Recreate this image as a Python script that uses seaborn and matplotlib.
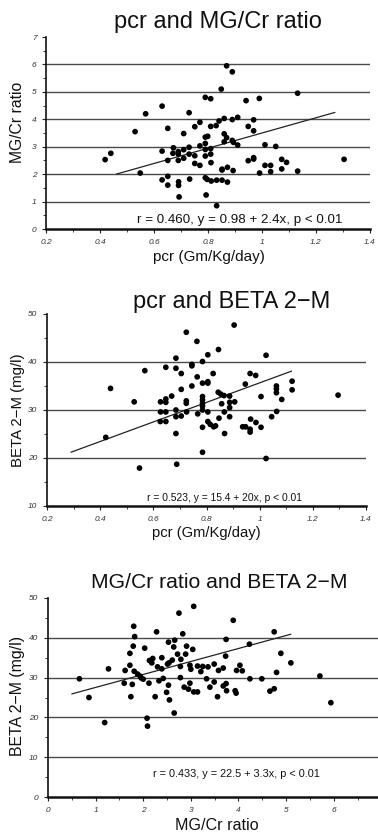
import numpy as np
import pandas as pd
import matplotlib
matplotlib.use("Agg")
import matplotlib.pyplot as plt
from matplotlib.ticker import MultipleLocator, FuncFormatter
import seaborn as sns

# ---------------- data ----------------
pcr1 = [0.869, 0.890, 0.849, 0.790, 0.810, 0.941, 0.990, 0.630, 0.569, 0.730,
        0.530, 0.651, 0.710, 0.751, 0.770, 0.810, 0.830, 0.841, 0.860, 0.890,
        0.910, 0.949, 0.969, 0.969, 0.790, 0.799, 0.860, 0.869, 0.860, 0.890,
        0.894, 0.910, 0.790, 0.770, 0.790, 0.810, 0.810, 0.790, 0.672, 0.690,
        0.710, 0.730, 0.670, 0.690, 0.710, 0.690, 0.730, 0.751, 0.630, 0.651,
        0.751, 0.770, 0.811, 1.011, 1.051, 0.949, 0.969, 0.969, 1.011, 1.032,
        1.032, 0.991, 0.852, 0.852, 0.872, 0.893, 0.549, 0.419, 0.440, 0.630,
        0.651, 0.651, 0.691, 0.691, 0.732, 0.790, 0.797, 0.812, 0.832, 0.852,
        0.872, 0.693, 0.793, 0.832, 1.132, 1.304, 1.132, 1.091, 1.073, 1.073]
mgcr1 = [5.95, 5.73, 5.10, 4.80, 4.75, 4.68, 4.76, 4.48, 4.20, 4.24,
         3.55, 3.67, 3.48, 3.73, 3.89, 3.74, 3.77, 3.94, 4.03, 3.99,
         4.07, 3.74, 3.98, 3.58, 3.35, 3.38, 3.47, 3.33, 3.18, 3.23,
         3.16, 3.06, 3.12, 3.03, 2.90, 2.93, 2.73, 2.66, 2.96, 2.82,
         2.89, 2.98, 2.76, 2.73, 2.58, 2.50, 2.73, 2.67, 2.84, 2.50,
         2.39, 2.32, 2.42, 3.07, 3.01, 2.49, 2.60, 2.55, 2.32, 2.32,
         2.09, 2.04, 2.18, 2.15, 2.25, 2.13, 2.04, 2.53, 2.76, 1.79,
         1.92, 1.60, 1.72, 1.59, 1.82, 1.87, 1.81, 1.75, 1.78, 1.78,
         1.71, 1.17, 1.24, 0.85, 4.95, 2.54, 2.11, 2.43, 2.54, 2.19]

pcr2 = [0.904, 0.724, 0.764, 0.845, 0.805, 1.024, 0.685, 0.785, 0.745, 0.745,
        0.647, 0.685, 0.568, 0.705, 0.825, 0.964, 0.985, 0.765, 0.805, 0.805,
        0.785, 0.946, 0.745, 1.063, 1.063, 1.063, 0.705, 0.439, 0.844, 0.854,
        0.866, 0.887, 1.005, 0.669, 0.647, 0.647, 0.627, 0.528, 0.724, 0.724,
        0.785, 0.785, 0.785, 0.785, 0.857, 0.887, 0.887, 0.906, 1.083, 0.627,
        0.647, 0.685, 0.685, 0.705, 0.725, 0.767, 0.805, 0.785, 0.867, 0.887,
        0.847, 0.626, 0.647, 0.805, 0.814, 0.827, 0.834, 0.785, 0.868, 0.936,
        0.947, 0.966, 0.964, 0.964, 0.986, 1.005, 1.045, 1.064, 0.685, 0.421,
        0.785, 1.024, 0.548, 0.688, 1.295, 1.122, 1.122]
beta2 = [47.7, 46.2, 44.3, 42.6, 41.5, 41.4, 40.8, 40.1, 39.5, 39.2,
         38.9, 38.7, 38.2, 37.6, 37.6, 37.6, 37.2, 36.9, 35.9, 35.6,
         35.6, 35.4, 35.0, 35.0, 34.4, 33.6, 34.3, 34.5, 33.7, 33.3,
         33.0, 32.9, 32.8, 32.9, 32.3, 31.6, 31.7, 31.7, 31.9, 31.4,
         32.8, 32.1, 31.4, 30.8, 31.3, 31.6, 30.5, 31.7, 32.2, 29.6,
         29.6, 30.0, 28.6, 28.75, 29.6, 29.2, 29.6, 30.0, 29.6, 28.6,
         28.3, 27.6, 27.6, 27.6, 27.0, 26.5, 26.7, 26.4, 25.1, 26.5,
         26.5, 28.1, 26.0, 25.4, 27.4, 26.4, 28.6, 29.7, 25.1, 24.3,
         21.2, 19.9, 17.9, 18.7, 33.1, 36.0, 34.2]

mgcr3 = [3.06, 2.75, 3.89, 1.80, 2.28, 4.75, 1.82, 2.83, 3.74, 2.53,
         2.66, 1.79, 2.03, 2.64, 2.91, 3.04, 4.23, 1.72, 2.72, 2.89,
         3.73, 4.89, 5.10, 2.13, 2.20, 2.18, 2.39, 2.61, 2.51, 2.54,
         2.79, 2.30, 2.39, 2.78, 2.98, 3.00, 3.14, 3.25, 3.21, 3.36,
         3.49, 3.58, 3.68, 4.03, 3.96, 4.08, 4.80, 1.27, 1.62, 1.72,
         1.81, 1.88, 1.93, 1.96, 2.00, 1.60, 1.77, 2.12, 2.33, 2.42,
         2.53, 2.78, 2.49, 2.55, 2.25, 1.74, 2.98, 2.86, 2.95, 3.06,
         3.14, 3.33, 3.49, 3.40, 3.56, 3.68, 3.74, 3.75, 3.93, 3.95,
         4.24, 4.49, 4.66, 4.75, 0.66, 0.86, 2.65, 1.19, 2.08, 2.09,
         5.71, 5.94]
beta3 = [47.9, 46.2, 44.4, 42.9, 41.5, 41.5, 40.3, 41.0, 39.6, 38.9,
         39.4, 37.9, 37.4, 37.7, 37.9, 37.1, 38.4, 36.1, 35.9, 35.9,
         35.4, 36.1, 33.7, 34.3, 34.8, 33.7, 35.0, 34.4, 33.4, 33.7,
         34.6, 32.7, 32.2, 32.8, 33.1, 32.1, 32.9, 32.8, 31.5, 32.7,
         33.4, 31.8, 32.4, 33.1, 31.8, 31.7, 31.3, 32.2, 31.8, 33.1,
         31.6, 30.9, 30.4, 29.9, 29.6, 28.6, 28.3, 28.6, 29.2, 29.8,
         28.1, 30.0, 26.3, 24.4, 25.2, 25.2, 28.6, 27.6, 27.1, 26.4,
         26.4, 29.7, 28.9, 27.6, 25.2, 27.9, 28.5, 26.7, 26.7, 26.1,
         29.7, 29.7, 26.6, 27.2, 29.7, 25.0, 21.1, 18.7, 19.8, 17.8,
         30.4, 23.7]

# regression lines (endpoints as drawn)
line1_x = [0.46, 1.27]
line1_y = [2.0, 4.25]
line2_x = [0.29, 1.12]
line2_y = [21.2, 38.1]
line3_x = [0.50, 5.10]
line3_y = [25.9, 40.9]

titles = ["pcr and MG/Cr ratio", "pcr and BETA 2\u2212M", "MG/Cr ratio and BETA 2\u2212M"]
xlabels = ["pcr (Gm/Kg/day)", "pcr (Gm/Kg/day)", "MG/Cr ratio"]
ylabels = ["MG/Cr ratio", "BETA 2\u2212M (mg/l)", "BETA 2\u2212M (mg/l)"]
notes = ["r = 0.460, y = 0.98 + 2.4x, p < 0.01",
         "r = 0.523, y = 15.4 + 20x, p < 0.01",
         "r = 0.433, y = 22.5 + 3.3x, p < 0.01"]

# ---------------- style ----------------
sns.set_theme(style="white")
plt.rcParams['font.family'] = ['Liberation Sans', 'DejaVu Sans']

W, H = 378, 836
fig = plt.figure(figsize=(W / 100, H / 100), dpi=100)

# panel rectangles in pixels: left, top, right, bottom
rects = [(46, 37, 370, 229), (47, 314, 366, 506), (48, 598, 378, 797)]
xlims = [(0.2, 1.4), (0.2, 1.4), (0, 6.93)]
ylims = [(0, 7), (10, 50), (0, 50)]
xmaj = [0.2, 0.2, 1]
xmin = [0.1, 0.1, 0.5]
ymaj = [1, 10, 10]
ymin = [0.5, 5, 5]
grids = [[1, 2, 3, 4, 5, 6], [20, 30, 40], [10, 20, 30, 40]]
title_px = [(218, 22, 17), (232, 302, 17), (219, 583, 15.2)]
xlab_px = [(209, 257, 11), (206, 533, 10.6), (217, 826, 11.6)]
ylab_px = [(18, 122, 11.3), (18, 410, 10.8), (18, 696, 11.4)]
note_px = [(240, 220, 9.6), (224, 498, 7.4), (236, 774, 7.8)]

datasets = [(pcr1, mgcr1), (pcr2, beta2), (mgcr3, beta3)]
lines = [(line1_x, line1_y), (line2_x, line2_y), (line3_x, line3_y)]


def fmt_x(v, pos):
    if abs(v - round(v)) < 1e-9:
        return "%d" % round(v)
    return ("%.1f" % v)


for i in range(3):
    l, t, r, b = rects[i]
    ax = fig.add_axes([l / W, 1 - b / H, (r - l) / W, (b - t) / H])
    ax.set_xlim(*xlims[i])
    ax.set_ylim(*ylims[i])

    def to_ax(px, py, l=l, t=t, r=r, b=b):
        return (px - l) / (r - l), (b - py) / (b - t)

    for g in grids[i]:
        ax.axhline(g, color="#4a4a4a", lw=1.0, zorder=1)

    xs, ys = datasets[i]
    df = pd.DataFrame({"x": xs, "y": ys})
    sns.scatterplot(data=df, x="x", y="y", ax=ax, color="black", s=17,
                    edgecolor="none", zorder=3, legend=False)
    lx, ly = lines[i]
    sns.lineplot(x=lx, y=ly, ax=ax, color="#222222", lw=0.9, zorder=2)

    ax.xaxis.set_major_locator(MultipleLocator(xmaj[i]))
    ax.xaxis.set_minor_locator(MultipleLocator(xmin[i]))
    ax.yaxis.set_major_locator(MultipleLocator(ymaj[i]))
    ax.yaxis.set_minor_locator(MultipleLocator(ymin[i]))
    ax.xaxis.set_major_formatter(FuncFormatter(fmt_x))
    ax.tick_params(axis="both", which="major", direction="out", length=3,
                   width=0.8, color="#222222", labelsize=6,
                   labelcolor="#333333", pad=4, bottom=True, left=True)
    ax.tick_params(axis="both", which="minor", direction="out", length=2,
                   width=0.6, color="#222222", bottom=True, left=True)
    for lab in ax.get_xticklabels() + ax.get_yticklabels():
        lab.set_fontstyle("italic")

    for s in ["top", "right"]:
        ax.spines[s].set_visible(False)
    ax.spines["left"].set_color("#111111")
    ax.spines["left"].set_linewidth(1.2)
    ax.spines["bottom"].set_color("#111111")
    ax.spines["bottom"].set_linewidth(1.8)

    tx, ty, ts = title_px[i]
    cx, cy = to_ax(tx, ty)
    ax.set_title(titles[i], x=cx, y=cy, va="center", ha="center",
                 fontsize=ts, color="#111111", pad=0)

    xx, xy, xs_ = xlab_px[i]
    ax.set_xlabel(xlabels[i], fontsize=xs_, color="#111111")
    ax.xaxis.set_label_coords(*to_ax(xx, xy))
    ax.xaxis.label.set_va("center")

    yx, yy, ys_ = ylab_px[i]
    ax.set_ylabel(ylabels[i], fontsize=ys_, color="#111111")
    ax.yaxis.set_label_coords(*to_ax(yx, yy))
    ax.yaxis.label.set_va("center")

    nx, ny, ns = note_px[i]
    ax.text(*to_ax(nx, ny), notes[i], transform=ax.transAxes, ha="center",
            va="center", fontsize=ns, color="#111111")

fig.savefig("out.png", dpi=100)
